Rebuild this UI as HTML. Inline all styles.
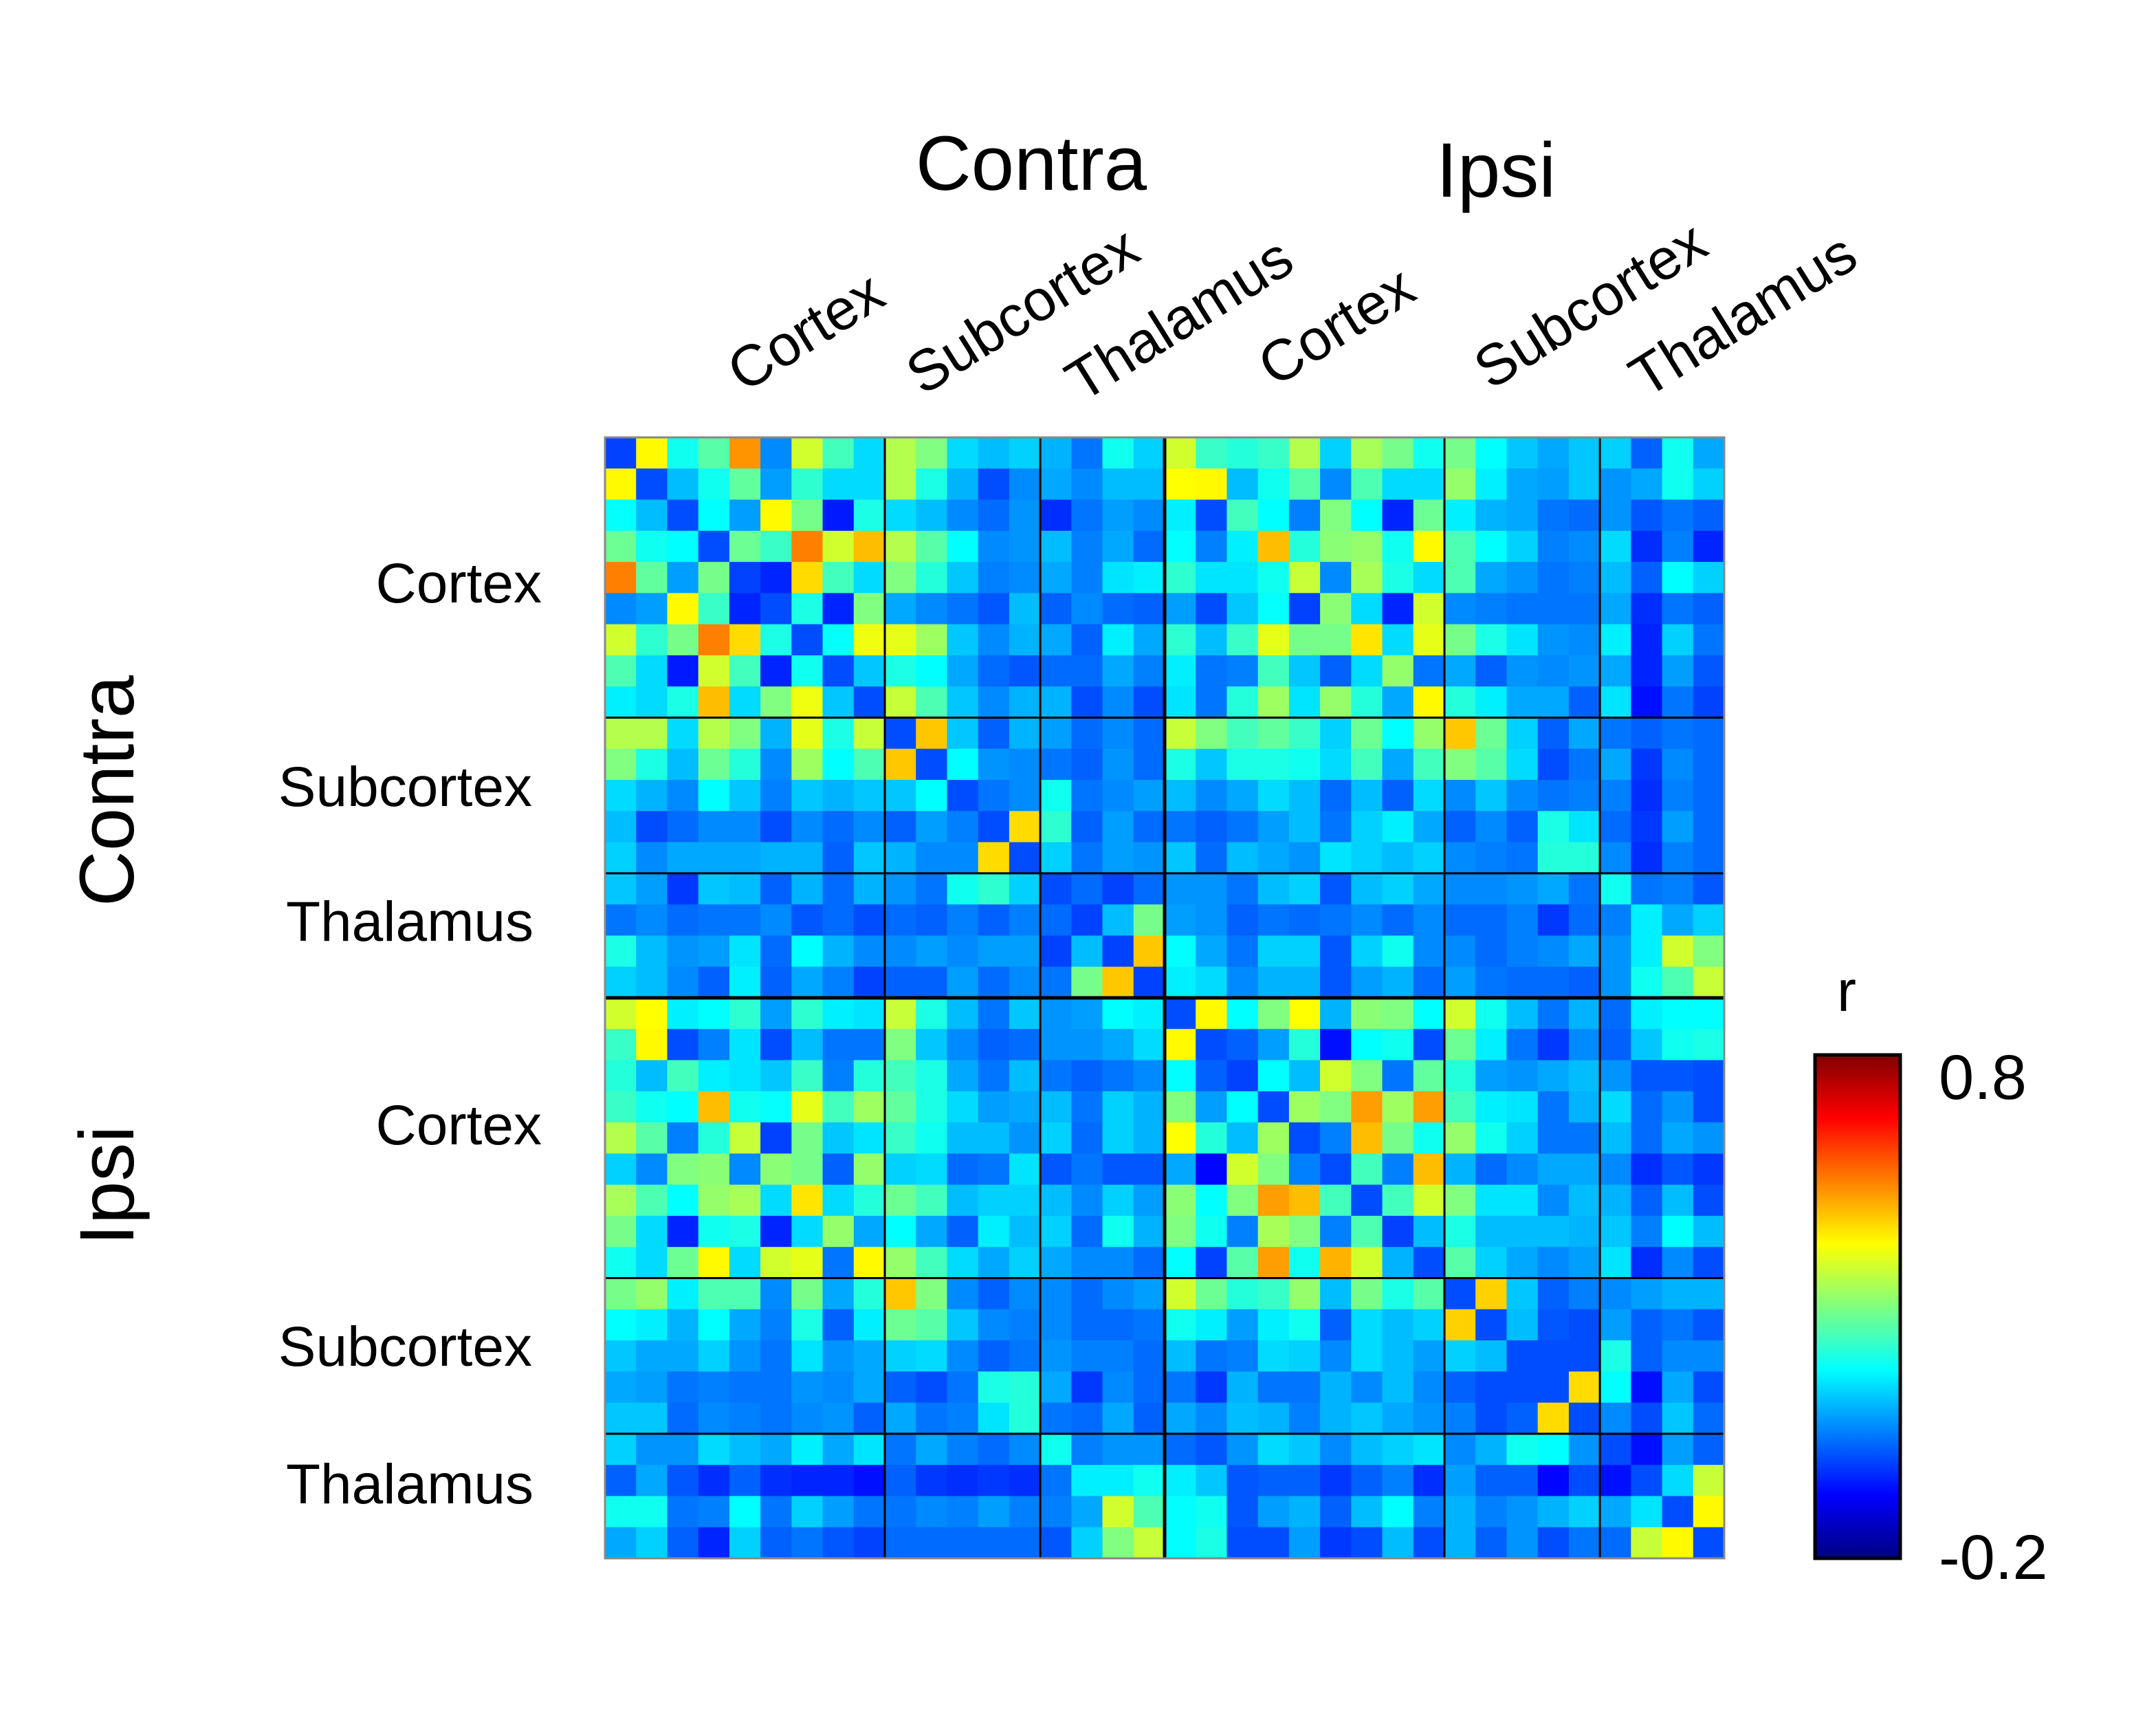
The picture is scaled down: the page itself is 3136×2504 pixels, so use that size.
<!DOCTYPE html>
<html><head><meta charset="utf-8"><style>
html,body{margin:0;padding:0;background:#fff;}
svg{display:block;font-family:"Liberation Sans",Arial,sans-serif;}
</style></head><body>
<svg id="chart" width="3136" height="2504" viewBox="0 0 3136 2504" xmlns="http://www.w3.org/2000/svg">
<defs>
<linearGradient id="jet" x1="0" y1="1" x2="0" y2="0">
<stop offset="0" stop-color="#000080"/><stop offset="0.125" stop-color="#0000ff"/><stop offset="0.375" stop-color="#00ffff"/><stop offset="0.625" stop-color="#ffff00"/><stop offset="0.875" stop-color="#ff0000"/><stop offset="1" stop-color="#800000"/>
</linearGradient>
</defs>
<rect width="3136" height="2504" fill="#fff"/>
<g id="cells"></g>
<g id="grid"></g>
<rect x="880" y="636" width="1628" height="1630" fill="none" stroke="#888" stroke-width="3"/>
<text x="1500" y="276" font-size="112" text-anchor="middle">Contra</text>
<text x="2176" y="286" font-size="112" text-anchor="middle">Ipsi</text>
<text transform="translate(194,1150) rotate(-90)" font-size="112" text-anchor="middle">Contra</text>
<text transform="translate(194,1724) rotate(-90)" font-size="112" text-anchor="middle">Ipsi</text>
<g font-size="82" text-anchor="end">
<text x="788" y="876">Cortex</text>
<text x="774" y="1172">Subcortex</text>
<text x="776" y="1368">Thalamus</text>
<text x="788" y="1664">Cortex</text>
<text x="774" y="1986">Subcortex</text>
<text x="776" y="2186">Thalamus</text>
</g>
<g font-size="84">
<text transform="translate(1082,572) rotate(-32)">Cortex</text>
<text transform="translate(1342,576) rotate(-32)">Subcortex</text>
<text transform="translate(1574,586) rotate(-32)">Thalamus</text>
<text transform="translate(1854,564) rotate(-32)">Cortex</text>
<text transform="translate(2168,568) rotate(-32)">Subcortex</text>
<text transform="translate(2394,580) rotate(-32)">Thalamus</text>
</g>
<rect x="2640" y="1534" width="124" height="732" fill="url(#jet)" stroke="#000" stroke-width="5"/>
<text x="2686" y="1470" font-size="84" text-anchor="middle">r</text>
<text id="cbmax" x="2820" y="1598" font-size="92"></text>
<text id="cbmin" x="2820" y="2296" font-size="92"></text>
</svg>
<script>
const colorRange = [-0.2, 0.8];
const groupSizes = [9, 5, 4, 9, 5, 4];
// Top half: rows 0-17 (contra), columns 0-35
const topRows = [
[-0.01,0.43,0.19,0.26,0.53,0.06,0.38,0.24,0.14,0.35,0.30,0.14,0.11,0.13,0.10,0.04,0.19,0.13, 0.38,0.23,0.21,0.23,0.35,0.13,0.34,0.29,0.19,0.29,0.175,0.12,0.09,0.12,0.13,0.02,0.19,0.09],
[0.43,0.0,0.11,0.19,0.27,0.08,0.22,0.14,0.14,0.35,0.20,0.10,0.0,0.06,0.09,0.06,0.11,0.11, 0.425,0.43,0.11,0.19,0.26,0.06,0.25,0.14,0.14,0.32,0.16,0.09,0.08,0.12,0.07,0.09,0.19,0.13],
[0.18,0.11,0.0,0.175,0.08,0.43,0.29,-0.05,0.20,0.14,0.11,0.06,0.03,0.07,-0.03,0.04,0.08,0.06, 0.16,0.0,0.24,0.175,0.05,0.30,0.175,-0.04,0.28,0.16,0.10,0.09,0.04,0.03,0.07,0.01,0.04,0.02],
[0.28,0.19,0.175,0.0,0.28,0.23,0.55,0.38,0.49,0.35,0.26,0.175,0.06,0.07,0.11,0.05,0.09,0.03, 0.175,0.05,0.16,0.49,0.21,0.31,0.32,0.19,0.43,0.25,0.175,0.13,0.05,0.06,0.14,-0.03,0.05,-0.04],
[0.55,0.27,0.08,0.29,-0.01,-0.04,0.46,0.24,0.14,0.30,0.21,0.12,0.05,0.06,0.09,0.05,0.15,0.16, 0.22,0.15,0.15,0.19,0.37,0.06,0.34,0.20,0.14,0.25,0.09,0.07,0.04,0.05,0.11,0.02,0.175,0.13],
[0.06,0.08,0.43,0.23,-0.04,0.0,0.20,-0.04,0.30,0.09,0.06,0.04,0.01,0.11,0.02,0.06,0.03,0.02, 0.08,0.0,0.12,0.18,-0.01,0.31,0.14,-0.04,0.38,0.06,0.05,0.04,0.04,0.04,0.09,-0.03,0.04,0.02],
[0.38,0.22,0.29,0.55,0.46,0.20,0.0,0.18,0.41,0.40,0.33,0.12,0.06,0.10,0.09,0.02,0.16,0.09, 0.22,0.11,0.23,0.40,0.29,0.29,0.45,0.14,0.40,0.29,0.20,0.15,0.07,0.06,0.16,-0.04,0.13,0.04],
[0.25,0.14,-0.05,0.38,0.24,-0.04,0.19,0.0,0.12,0.20,0.175,0.09,0.03,0.01,0.03,0.03,0.09,0.05, 0.16,0.04,0.05,0.24,0.12,0.02,0.14,0.32,0.04,0.09,0.02,0.07,0.06,0.07,0.09,-0.04,0.08,0.01],
[0.16,0.14,0.20,0.49,0.14,0.30,0.41,0.12,0.0,0.37,0.25,0.12,0.06,0.10,0.10,0.0,0.06,0.0, 0.15,0.04,0.21,0.33,0.15,0.32,0.21,0.09,0.43,0.21,0.16,0.09,0.09,0.02,0.15,-0.06,0.04,-0.01],
[0.35,0.35,0.14,0.35,0.30,0.10,0.40,0.20,0.37,0.0,0.48,0.12,0.02,0.10,0.08,0.03,0.06,0.03, 0.37,0.30,0.24,0.27,0.23,0.13,0.28,0.175,0.32,0.48,0.28,0.13,0.02,0.09,0.04,0.02,0.04,0.03],
[0.30,0.20,0.11,0.28,0.21,0.06,0.33,0.175,0.25,0.48,0.0,0.175,0.07,0.06,0.04,0.02,0.07,0.03, 0.20,0.12,0.20,0.20,0.19,0.14,0.24,0.09,0.24,0.30,0.26,0.14,0.0,0.04,0.09,-0.02,0.06,0.03],
[0.14,0.10,0.06,0.175,0.12,0.05,0.12,0.10,0.12,0.12,0.175,0.0,0.04,0.06,0.19,0.04,0.06,0.08, 0.11,0.06,0.09,0.14,0.11,0.03,0.11,0.02,0.14,0.06,0.12,0.06,0.04,0.05,0.05,-0.03,0.05,0.03],
[0.11,0.0,0.03,0.06,0.06,0.0,0.06,0.03,0.06,0.02,0.08,0.05,0.0,0.46,0.22,0.02,0.08,0.03, 0.04,0.02,0.04,0.08,0.11,0.04,0.13,0.16,0.09,0.02,0.06,0.02,0.20,0.15,0.03,-0.02,0.08,0.03],
[0.13,0.06,0.09,0.09,0.09,0.10,0.10,0.02,0.12,0.10,0.06,0.06,0.46,0.0,0.13,0.04,0.08,0.07, 0.12,0.03,0.11,0.09,0.07,0.15,0.13,0.11,0.13,0.06,0.05,0.04,0.21,0.21,0.06,-0.03,0.05,0.03],
[0.12,0.08,-0.02,0.12,0.11,0.02,0.10,0.03,0.10,0.07,0.04,0.19,0.22,0.13,0.0,0.03,-0.01,0.03, 0.07,0.07,0.04,0.11,0.13,0.01,0.11,0.13,0.09,0.06,0.06,0.07,0.09,0.04,0.19,0.04,0.05,0.01],
[0.04,0.06,0.03,0.04,0.04,0.06,0.01,0.03,0.0,0.03,0.02,0.05,0.02,0.05,0.03,-0.01,0.11,0.29, 0.08,0.07,0.02,0.04,0.03,0.04,0.06,0.03,0.06,0.03,0.03,0.05,-0.02,0.03,0.05,0.16,0.09,0.13],
[0.20,0.11,0.07,0.08,0.15,0.03,0.175,0.10,0.06,0.06,0.08,0.06,0.08,0.08,-0.01,0.11,-0.01,0.48, 0.175,0.09,0.04,0.13,0.13,0.01,0.13,0.19,0.06,0.06,0.03,0.05,0.06,0.09,0.07,0.16,0.38,0.30],
[0.13,0.11,0.06,0.02,0.16,0.02,0.09,0.05,-0.01,0.02,0.02,0.08,0.03,0.06,0.04,0.29,0.48,-0.01, 0.16,0.14,0.06,0.10,0.10,0.01,0.08,0.10,0.03,0.08,0.04,0.03,0.03,0.02,0.07,0.19,0.25,0.37]
];
// Ipsi-Ipsi block: rows 18-35, columns 18-35
const ipsiRows = [
[0.0,0.43,0.175,0.30,0.425,0.10,0.31,0.30,0.175,0.38,0.19,0.11,0.04,0.10,0.03,0.16,0.175,0.175],
[0.43,0.0,0.02,0.08,0.21,-0.06,0.175,0.19,0.0,0.28,0.16,0.04,-0.02,0.06,0.02,0.12,0.19,0.20],
[0.175,0.02,-0.01,0.175,0.11,0.38,0.30,0.04,0.27,0.21,0.08,0.07,0.09,0.11,0.07,0.01,0.01,0.0],
[0.30,0.08,0.175,0.0,0.33,0.30,0.52,0.33,0.52,0.24,0.16,0.15,0.04,0.10,0.14,0.03,0.07,0.0],
[0.425,0.21,0.11,0.33,0.0,0.05,0.49,0.29,0.19,0.32,0.19,0.13,0.04,0.04,0.11,0.03,0.09,0.07],
[0.09,-0.07,0.38,0.30,0.05,0.0,0.24,0.05,0.49,0.10,0.03,0.06,0.09,0.09,0.06,-0.03,0.01,-0.02],
[0.31,0.175,0.30,0.52,0.49,0.24,0.0,0.24,0.38,0.30,0.15,0.15,0.06,0.11,0.10,0.02,0.11,0.0],
[0.30,0.19,0.05,0.34,0.30,0.05,0.25,-0.01,0.11,0.20,0.11,0.11,0.11,0.10,0.12,0.05,0.175,0.11],
[0.175,-0.01,0.26,0.52,0.19,0.50,0.38,0.10,0.0,0.26,0.13,0.09,0.06,0.08,0.15,-0.03,0.06,0.0],
[0.38,0.28,0.21,0.23,0.32,0.11,0.29,0.20,0.26,0.0,0.47,0.12,0.02,0.05,0.06,0.08,0.10,0.10],
[0.19,0.16,0.08,0.16,0.19,0.02,0.14,0.11,0.13,0.47,0.0,0.11,0.01,0.0,0.08,0.02,0.04,0.01],
[0.11,0.04,0.05,0.14,0.13,0.06,0.14,0.11,0.08,0.13,0.11,0.0,0.0,0.0,0.20,0.02,0.06,0.06],
[0.04,-0.02,0.10,0.04,0.04,0.10,0.06,0.11,0.06,0.02,0.0,0.0,0.0,0.46,0.175,-0.06,0.09,0.0],
[0.09,0.06,0.11,0.10,0.05,0.10,0.12,0.09,0.07,0.05,0.0,0.02,0.46,0.0,0.06,0.0,0.12,0.03],
[0.03,0.01,0.07,0.14,0.12,0.06,0.11,0.13,0.15,0.06,0.10,0.19,0.175,0.07,0.0,-0.06,0.08,0.02],
[0.16,0.12,0.01,0.02,0.02,-0.02,0.02,0.05,-0.03,0.08,0.02,0.02,-0.07,0.0,-0.06,0.0,0.14,0.37],
[0.175,0.19,0.01,0.08,0.10,0.02,0.11,0.175,0.05,0.10,0.05,0.07,0.10,0.13,0.09,0.15,0.0,0.43],
[0.175,0.20,0.0,0.0,0.08,-0.02,0.0,0.11,0.0,0.10,0.02,0.07,0.0,0.04,0.03,0.37,0.43,0.0]
];
const colorbarTicks = ["0.8", "-0.2"];

const NS = "http://www.w3.org/2000/svg";
const X0 = 880, Y0 = 636, W = 1628, H = 1630;
const N = 36;
const cw = W / N, ch = H / N;
const xPos = i => X0 + i * cw;
const yPos = j => Y0 + j * ch;
function clip(v){ return Math.max(0, Math.min(1, v)); }
function jet(v){
  const t = clip((v - colorRange[0]) / (colorRange[1] - colorRange[0]));
  const r = clip(1.5 - Math.abs(4*t - 3)), g = clip(1.5 - Math.abs(4*t - 2)), b = clip(1.5 - Math.abs(4*t - 1));
  return "rgb(" + Math.round(r*255) + "," + Math.round(g*255) + "," + Math.round(b*255) + ")";
}
function value(r, c){
  if (r < 18) return topRows[r][c];
  if (c < 18) return topRows[c][r];
  return ipsiRows[r-18][c-18];
}
const cells = document.getElementById("cells");
for (let r = 0; r < N; r++) {
  for (let c = 0; c < N; c++) {
    const rect = document.createElementNS(NS, "rect");
    rect.setAttribute("x", xPos(c).toFixed(2));
    rect.setAttribute("y", yPos(r).toFixed(2));
    rect.setAttribute("width", (cw + 0.6).toFixed(2));
    rect.setAttribute("height", (ch + 0.6).toFixed(2));
    rect.setAttribute("fill", jet(value(r, c)));
    
    
    cells.appendChild(rect);
  }
}
const grid = document.getElementById("grid");
let acc = 0;
for (let k = 0; k < groupSizes.length - 1; k++) {
  acc += groupSizes[k];
  const w = (acc === 18) ? 5 : 3;
  const v = document.createElementNS(NS, "line");
  v.setAttribute("x1", xPos(acc)); v.setAttribute("x2", xPos(acc));
  v.setAttribute("y1", Y0); v.setAttribute("y2", Y0 + H);
  v.setAttribute("stroke", "#000"); v.setAttribute("stroke-width", w);
  
  
  grid.appendChild(v);
  const h = document.createElementNS(NS, "line");
  h.setAttribute("y1", yPos(acc)); h.setAttribute("y2", yPos(acc));
  h.setAttribute("x1", X0); h.setAttribute("x2", X0 + W);
  h.setAttribute("stroke", "#000"); h.setAttribute("stroke-width", w);
  
  
  grid.appendChild(h);
}
document.getElementById("cbmax").textContent = colorbarTicks[0];
document.getElementById("cbmin").textContent = colorbarTicks[1];
</script>
</body></html>
